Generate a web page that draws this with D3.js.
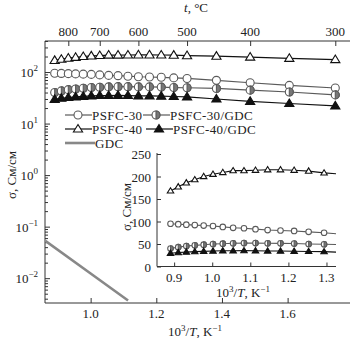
<!DOCTYPE html>
<html>
<head>
<meta charset="utf-8">
<script src="https://cdn.jsdelivr.net/npm/d3@7/dist/d3.min.js"></script>
<style>
  html, body { margin: 0; padding: 0; background: #fff; }
  svg { display: block; font-family: "Liberation Serif", "DejaVu Serif", serif; }
</style>
</head>
<body>
<svg id="chart" width="350" height="338"></svg>
<script>
// Measurement temperatures, °C
const tempC = [850, 825, 800, 775, 750, 725, 700, 675, 650, 625, 600, 575, 550, 525, 500, 450, 400, 350, 300];

// Conductivity, S/cm
const psfc30    = [95, 94, 93, 92, 91, 90, 88, 86, 85, 83, 81, 80, 79, 77, 75, 69, 62, 55, 49];
const psfc40    = [168, 177, 186, 193, 200, 205, 209, 213, 213, 214, 215, 215, 214, 212, 208, 203, 195, 184, 174];
const psfc30gdc = [40, 43, 45.5, 47, 48.5, 50, 50.7, 51.5, 52, 52, 51.5, 51.5, 51, 50, 49.5, 48, 44.5, 41, 36];
const psfc40gdc = [29.5, 31, 32, 33, 33.7, 34.4, 35, 35, 35.2, 35, 34.5, 34.4, 34, 33.5, 33, 30, 27, 24.5, 22];

// GDC electrolyte (10^3/T, S/cm)
const gdcInvT  = [0.862, 1.0, 1.114];
const gdcSigma = [0.053, 0.0123, 0.0037];

// Tick labels
const topTicksC   = [800, 700, 600, 500, 400, 300];
const bottomTicks = [1.0, 1.2, 1.4, 1.6];
const decades     = [-2, -1, 0, 1, 2];
const insetXTicks = [0.9, 1.0, 1.1, 1.2, 1.3];
const insetYTicks = [0, 50, 100, 150, 200, 250];

const series = [
  { name: "PSFC-30",     values: psfc30,    marker: "circle",   fill: "#fff",  color: "#5a5a5a" },
  { name: "PSFC-30/GDC", values: psfc30gdc, marker: "halfcirc", fill: "#777",  color: "#5a5a5a" },
  { name: "PSFC-40",     values: psfc40,    marker: "triangle", fill: "#fff",  color: "#111" },
  { name: "PSFC-40/GDC", values: psfc40gdc, marker: "triangle", fill: "#111",  color: "#111" }
];

const invT = tempC.map(t => 1000 / (t + 273));

const svg = d3.select("#chart");

// ---------- main plot ----------
const M = { left: 45, right: 350, top: 41, bottom: 303 };
const x = d3.scaleLinear().domain([0.861, 1.79]).range([M.left, M.right]);
const y = d3.scaleLog().domain([0.0033, 400]).range([M.bottom, M.top]);

svg.append("clipPath").attr("id", "mainClip")
  .append("rect").attr("x", M.left).attr("y", M.top)
  .attr("width", M.right - M.left).attr("height", M.bottom - M.top);

// frame: left, bottom, top
svg.append("path")
  .attr("d", `M${M.right},${M.top}H${M.left}V${M.bottom}H${M.right}`)
  .attr("fill", "none").attr("stroke", "#333").attr("stroke-width", 1);

// bottom axis (inward ticks)
const gB = svg.append("g").attr("transform", `translate(0,${M.bottom})`)
  .call(d3.axisBottom(x).tickValues(bottomTicks).tickSize(-5).tickFormat(""));
gB.select(".domain").remove();
gB.selectAll("line").attr("stroke", "#333");
svg.append("g").selectAll("text").data(bottomTicks).join("text")
  .attr("x", d => x(d)).attr("y", 318).attr("text-anchor", "middle")
  .attr("font-size", 13).attr("fill", "#222").text(d => d.toFixed(1));

// top axis in °C
const gT = svg.append("g").attr("transform", `translate(0,${M.top})`)
  .call(d3.axisTop(x).tickValues(topTicksC.map(t => 1000 / (t + 273))).tickSize(-5).tickFormat(""));
gT.select(".domain").remove();
gT.selectAll("line").attr("stroke", "#333");
svg.append("g").selectAll("text").data(topTicksC).join("text")
  .attr("x", d => x(1000 / (d + 273))).attr("y", 36).attr("text-anchor", "middle")
  .attr("font-size", 13).attr("fill", "#222").text(d => d);

// left log axis: decades and minor ticks
const minor = [];
for (let e = -3; e <= 2; e++) for (let m = 2; m <= 9; m++) {
  const v = m * Math.pow(10, e);
  if (v >= 0.0033 && v <= 400) minor.push(v);
}
const gL = svg.append("g").attr("transform", `translate(${M.left},0)`)
  .call(d3.axisLeft(y).tickValues(decades.map(e => Math.pow(10, e))).tickSize(-5).tickFormat(""));
gL.select(".domain").remove();
gL.selectAll("line").attr("stroke", "#333");
const gLm = svg.append("g").attr("transform", `translate(${M.left},0)`)
  .call(d3.axisLeft(y).tickValues(minor).tickSize(-3).tickFormat(""));
gLm.select(".domain").remove();
gLm.selectAll("line").attr("stroke", "#333");

const decLab = svg.append("g").selectAll("text").data(decades).join("text")
  .attr("x", 38).attr("y", d => y(Math.pow(10, d)) + 5)
  .attr("text-anchor", "end").attr("font-size", 13).attr("fill", "#222");
decLab.append("tspan").text("10");
decLab.append("tspan").attr("dy", -6).attr("font-size", 9)
  .text(d => String(d).replace("-", "\u2212"));

// axis titles
const tTitle = svg.append("text").attr("x", 196).attr("y", 12).attr("text-anchor", "middle")
  .attr("font-size", 13).attr("fill", "#222");
tTitle.append("tspan").attr("font-style", "italic").text("t");
tTitle.append("tspan").text(", °C");

function invTTitle(sel) {
  sel.append("tspan").text("10");
  sel.append("tspan").attr("dy", -5).attr("font-size", 9).text("3");
  sel.append("tspan").attr("dy", 5).text("/");
  sel.append("tspan").attr("font-style", "italic").text("T");
  sel.append("tspan").text(", K");
  sel.append("tspan").attr("dy", -5).attr("font-size", 9).text("\u22121");
}
svg.append("text").attr("x", 195).attr("y", 336).attr("text-anchor", "middle")
  .attr("font-size", 13).attr("fill", "#222").call(invTTitle);

svg.append("text").attr("transform", "translate(16,175) rotate(-90)")
  .attr("text-anchor", "middle").attr("font-size", 13).attr("fill", "#222")
  .text("σ, См/см");

// markers
function drawMarker(g, s, cx, cy, r) {
  if (s.marker === "circle") {
    g.append("circle").attr("cx", cx).attr("cy", cy).attr("r", r)
      .attr("fill", s.fill).attr("stroke", s.color).attr("stroke-width", 1.1);
  } else if (s.marker === "halfcirc") {
    g.append("circle").attr("cx", cx).attr("cy", cy).attr("r", r)
      .attr("fill", "#fff").attr("stroke", s.color).attr("stroke-width", 1.1);
    g.append("path")
      .attr("d", `M${cx},${cy - r}A${r},${r} 0 0 1 ${cx},${cy + r}Z`)
      .attr("fill", s.fill).attr("stroke", s.color).attr("stroke-width", 1.1);
  } else {
    const h = r * 1.9, w = r * 1.15;
    g.append("path")
      .attr("d", `M${cx},${cy - h * 0.6}L${cx + w},${cy + h * 0.4}L${cx - w},${cy + h * 0.4}Z`)
      .attr("fill", s.fill).attr("stroke", s.color).attr("stroke-width", 1.1)
      .attr("stroke-linejoin", "miter");
  }
}

const mainG = svg.append("g").attr("clip-path", "url(#mainClip)");

// GDC line
mainG.append("path")
  .datum(gdcInvT.map((d, i) => [d, gdcSigma[i]]))
  .attr("d", d3.line().x(d => x(d[0])).y(d => y(d[1])))
  .attr("fill", "none").attr("stroke", "#888").attr("stroke-width", 2.6);

const order = [series[0], series[1], series[3], series[2]];
order.forEach(s => {
  const pts = invT.map((d, i) => [d, s.values[i]]);
  mainG.append("path").datum(pts)
    .attr("d", d3.line().x(d => x(d[0])).y(d => y(d[1])))
    .attr("fill", "none").attr("stroke", s.color).attr("stroke-width", 1.2);
  const mg = mainG.append("g");
  pts.forEach(p => drawMarker(mg, s, x(p[0]), y(p[1]), 4));
});

// legend
const leg = svg.append("g").attr("font-size", 13).attr("letter-spacing", 0.4).attr("fill", "#222");
const legRows = [
  { s: series[0], lx: 65, ly: 115 }, { s: series[1], lx: 143, ly: 115 },
  { s: series[2], lx: 65, ly: 129 }, { s: series[3], lx: 146, ly: 129 }
];
legRows.forEach(r => {
  leg.append("line").attr("x1", r.lx).attr("x2", r.lx + 27).attr("y1", r.ly).attr("y2", r.ly)
    .attr("stroke", r.s.color).attr("stroke-width", 1.2);
  drawMarker(leg, r.s, r.lx + 13, r.ly, 4);
  leg.append("text").attr("x", r.lx + 27).attr("y", r.ly + 4.5).text(r.s.name);
});
leg.append("line").attr("x1", 65).attr("x2", 95).attr("y1", 143).attr("y2", 143)
  .attr("stroke", "#888").attr("stroke-width", 2.6);
leg.append("text").attr("x", 95).attr("y", 147.5).text("GDC");

// ---------- inset (linear) ----------
const I = { left: 157, right: 336, top: 153, bottom: 266.5 };
const xi = d3.scaleLinear().domain([0.855, 1.325]).range([I.left, I.right]);
const yi = d3.scaleLinear().domain([0, 250]).range([I.bottom, 154]);

svg.append("clipPath").attr("id", "insetClip")
  .append("rect").attr("x", I.left).attr("y", I.top - 8)
  .attr("width", I.right - I.left).attr("height", I.bottom - I.top + 8);

svg.append("path")
  .attr("d", `M${I.left},${I.top}V${I.bottom}H${I.right}`)
  .attr("fill", "none").attr("stroke", "#333").attr("stroke-width", 1);

const giB = svg.append("g").attr("transform", `translate(0,${I.bottom})`)
  .call(d3.axisBottom(xi).tickValues(insetXTicks).tickSize(-4).tickFormat(""));
giB.select(".domain").remove();
giB.selectAll("line").attr("stroke", "#333");
svg.append("g").selectAll("text").data(insetXTicks).join("text")
  .attr("x", d => xi(d)).attr("y", 282).attr("text-anchor", "middle")
  .attr("font-size", 13).attr("fill", "#222").text(d => d.toFixed(1));

const giL = svg.append("g").attr("transform", `translate(${I.left},0)`)
  .call(d3.axisLeft(yi).tickValues(insetYTicks).tickSize(-4).tickFormat(""));
giL.select(".domain").remove();
giL.selectAll("line").attr("stroke", "#333");
svg.append("g").selectAll("text").data(insetYTicks).join("text")
  .attr("x", 151).attr("y", d => yi(d) + 5).attr("text-anchor", "end")
  .attr("font-size", 13).attr("fill", "#222").text(d => d);

svg.append("text").attr("x", 243).attr("y", 297).attr("text-anchor", "middle")
  .attr("font-size", 13).attr("fill", "#222").call(invTTitle);
svg.append("text").attr("transform", "translate(131,207) rotate(-90)")
  .attr("text-anchor", "middle").attr("font-size", 13).attr("fill", "#222")
  .text("σ, См/см");

const insetG = svg.append("g").attr("clip-path", "url(#insetClip)");
order.forEach(s => {
  const pts = invT.map((d, i) => [d, s.values[i]]);
  insetG.append("path").datum(pts)
    .attr("d", d3.line().x(d => xi(d[0])).y(d => yi(d[1])))
    .attr("fill", "none").attr("stroke", s.color).attr("stroke-width", 1.1);
  const mg = insetG.append("g");
  pts.filter(p => p[0] <= 1.325).forEach(p => drawMarker(mg, s, xi(p[0]), yi(p[1]), 2.8));
});
</script>
</body>
</html>
